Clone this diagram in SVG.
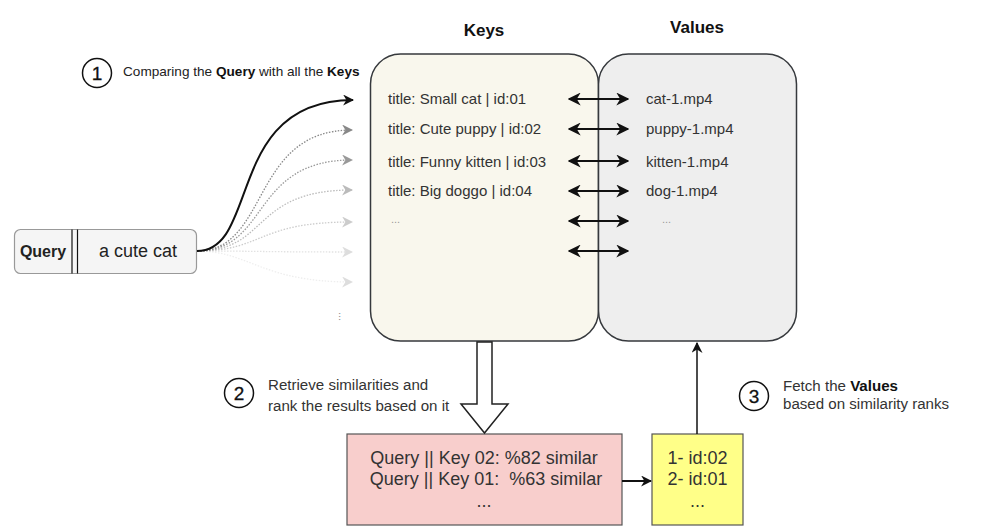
<svg xmlns="http://www.w3.org/2000/svg" width="984" height="532" viewBox="0 0 984 532">
<style>
text{font-family:"Liberation Sans",Arial,sans-serif;fill:#222;white-space:pre}
.key{font-size:15px;fill:#333}
.hdr{font-size:17px;font-weight:bold;fill:#111}
.note{font-size:15.1px;fill:#333}
.num{font-size:19px;text-anchor:middle;fill:#111;stroke:#111;stroke-width:0.3}
.big{font-size:18px;text-anchor:middle;fill:#333}
.dim{font-size:11px;fill:#999}
.circ{fill:#fff;stroke:#111;stroke-width:1.5}
.da{stroke:#111;stroke-width:2;fill:none;marker-start:url(#ahS);marker-end:url(#ahE2)}
</style>
<defs>
<marker id="ahE" viewBox="0 0 10 10" refX="9" refY="5" markerWidth="11" markerHeight="11" markerUnits="userSpaceOnUse" orient="auto"><path d="M0,0 L10,5 L0,10 L3,5 z" fill="#111"/></marker>
<marker id="ahE2" viewBox="0 0 10 10" refX="9" refY="5" markerWidth="13" markerHeight="13" markerUnits="userSpaceOnUse" orient="auto"><path d="M0,0 L10,5 L0,10 L3,5 z" fill="#111"/></marker>
<marker id="ahS" viewBox="0 0 10 10" refX="1" refY="5" markerWidth="13" markerHeight="13" markerUnits="userSpaceOnUse" orient="auto"><path d="M10,0 L0,5 L10,10 L7,5 z" fill="#111"/></marker>
<marker id="g2" viewBox="0 0 10 10" refX="9" refY="5" markerWidth="11" markerHeight="11" markerUnits="userSpaceOnUse" orient="auto"><path d="M0,0 L10,5 L0,10 L3,5 z" fill="#888"/></marker>
<marker id="g3" viewBox="0 0 10 10" refX="9" refY="5" markerWidth="11" markerHeight="11" markerUnits="userSpaceOnUse" orient="auto"><path d="M0,0 L10,5 L0,10 L3,5 z" fill="#999"/></marker>
<marker id="g4" viewBox="0 0 10 10" refX="9" refY="5" markerWidth="11" markerHeight="11" markerUnits="userSpaceOnUse" orient="auto"><path d="M0,0 L10,5 L0,10 L3,5 z" fill="#bbb"/></marker>
<marker id="g5" viewBox="0 0 10 10" refX="9" refY="5" markerWidth="11" markerHeight="11" markerUnits="userSpaceOnUse" orient="auto"><path d="M0,0 L10,5 L0,10 L3,5 z" fill="#ccc"/></marker>
<marker id="g6" viewBox="0 0 10 10" refX="9" refY="5" markerWidth="11" markerHeight="11" markerUnits="userSpaceOnUse" orient="auto"><path d="M0,0 L10,5 L0,10 L3,5 z" fill="#ddd"/></marker>
</defs>
<rect width="984" height="532" fill="#fff"/>

<g id="keys-header"><text class="hdr" x="484" y="36" text-anchor="middle">Keys</text></g>
<g id="values-header"><text class="hdr" x="697" y="33" text-anchor="middle">Values</text></g>

<g id="keys">
<rect x="370.5" y="54" width="228" height="287" rx="30" fill="#f9f7ed" stroke="#36393d" stroke-width="1.5"/>
<text class="key" x="388" y="104">title: Small cat | id:01</text>
<text class="key" x="388" y="134">title: Cute puppy | id:02</text>
<text class="key" x="388" y="167">title: Funny kitten | id:03</text>
<text class="key" x="388" y="196">title: Big doggo | id:04</text>
<text class="dim" x="391" y="223">...</text>
</g>

<g id="values">
<rect x="598.5" y="54" width="198" height="287" rx="30" fill="#eeeeee" stroke="#36393d" stroke-width="1.5"/>
<text class="key" x="646" y="104">cat-1.mp4</text>
<text class="key" x="646" y="134">puppy-1.mp4</text>
<text class="key" x="646" y="167">kitten-1.mp4</text>
<text class="key" x="646" y="196">dog-1.mp4</text>
<text class="dim" x="662" y="223">...</text>
</g>

<g id="query">
<rect x="14.5" y="229.5" width="182" height="44" rx="6" fill="#f5f5f5" stroke="#999" stroke-width="1.2"/>
<line x1="72" y1="229.5" x2="72" y2="273.5" stroke="#111" stroke-width="1.2"/>
<line x1="77.5" y1="229.5" x2="77.5" y2="273.5" stroke="#111" stroke-width="1.2"/>
<text x="43" y="257" font-size="16" font-weight="bold" text-anchor="middle" fill="#111">Query</text>
<text x="138" y="257" font-size="18" text-anchor="middle" fill="#333">a cute cat</text>
</g>

<g id="step1">
<circle class="circ" cx="97" cy="73" r="14.5"/>
<text class="num" x="97" y="80">1</text>
<text x="123" y="76" font-size="13.6" fill="#333">Comparing the <tspan font-weight="bold" fill="#111">Query</tspan> with all the <tspan font-weight="bold" fill="#111">Keys</tspan></text>
</g>

<g id="step2">
<circle class="circ" cx="239" cy="393" r="14.5"/>
<text class="num" x="239" y="400">2</text>
<text class="note" x="268" y="390">Retrieve similarities and</text>
<text class="note" x="268" y="411">rank the results based on it</text>
</g>

<g id="step3">
<circle class="circ" cx="754" cy="396" r="14.5"/>
<text class="num" x="754" y="403">3</text>
<text class="note" x="783" y="391">Fetch the <tspan font-weight="bold" fill="#111">Values</tspan></text>
<text class="note" x="783" y="409">based on similarity ranks</text>
</g>

<g id="similarities">
<rect x="347" y="434" width="275" height="91" fill="#f8cecc" stroke="#555" stroke-width="1.2"/>
<text class="big" x="484" y="464">Query || Key 02: %82 similar</text>
<text class="big" x="486" y="485">Query || Key 01:  %63 similar</text>
<text class="big" x="484" y="507">...</text>
</g>

<g id="ranks">
<rect x="652" y="434" width="91" height="91" fill="#ffff88" stroke="#555" stroke-width="1.2"/>
<text class="big" x="697.5" y="464">1- id:02</text>
<text class="big" x="697.5" y="485">2- id:01</text>
<text class="big" x="697.5" y="507">...</text>
</g>

<g id="more-dots"><text class="dim" transform="translate(339,312) rotate(90)">...</text></g>

<g id="connectors">
<path d="M197,251 C250,251 260,282 352,282" stroke="#eee" stroke-width="1.3" stroke-dasharray="1.5 1.5" fill="none" marker-end="url(#g6)"/>
<path d="M197,251 C260,251 260,252 352,252" stroke="#e2e2e2" stroke-width="1.3" stroke-dasharray="1.5 1.5" fill="none" marker-end="url(#g6)"/>
<path d="M197,251 C265,251 255,222 352,222" stroke="#ccc" stroke-width="1.3" stroke-dasharray="1.5 1.5" fill="none" marker-end="url(#g5)"/>
<path d="M197,251 C270,251 250,190 352,190" stroke="#bbb" stroke-width="1.3" stroke-dasharray="1.5 1.5" fill="none" marker-end="url(#g4)"/>
<path d="M197,251 C270,251 250,160 352,160" stroke="#999" stroke-width="1.3" stroke-dasharray="1.5 1.5" fill="none" marker-end="url(#g3)"/>
<path d="M197,251 C270,251 250,130 352,130" stroke="#888" stroke-width="1.3" stroke-dasharray="1.5 1.5" fill="none" marker-end="url(#g2)"/>
<path d="M197,251 C260,251 225,100 353,100" stroke="#111" stroke-width="2" fill="none" marker-end="url(#ahE)"/>

<line class="da" x1="569" y1="99" x2="628" y2="99"/>
<line class="da" x1="569" y1="129" x2="628" y2="129"/>
<line class="da" x1="569" y1="161" x2="628" y2="161"/>
<line class="da" x1="569" y1="191" x2="628" y2="191"/>
<line class="da" x1="569" y1="221" x2="628" y2="221"/>
<line class="da" x1="569" y1="251" x2="628" y2="251"/>

<polygon points="477,342 492,342 492,404 508,404 484.5,433 461,404 477,404" fill="#fff" stroke="#222" stroke-width="1.5"/>
<line x1="622" y1="481" x2="651" y2="481" stroke="#111" stroke-width="2" marker-end="url(#ahE)"/>
<line x1="697" y1="434" x2="697" y2="343" stroke="#111" stroke-width="1.5" marker-end="url(#ahE)"/>
</g>
</svg>
